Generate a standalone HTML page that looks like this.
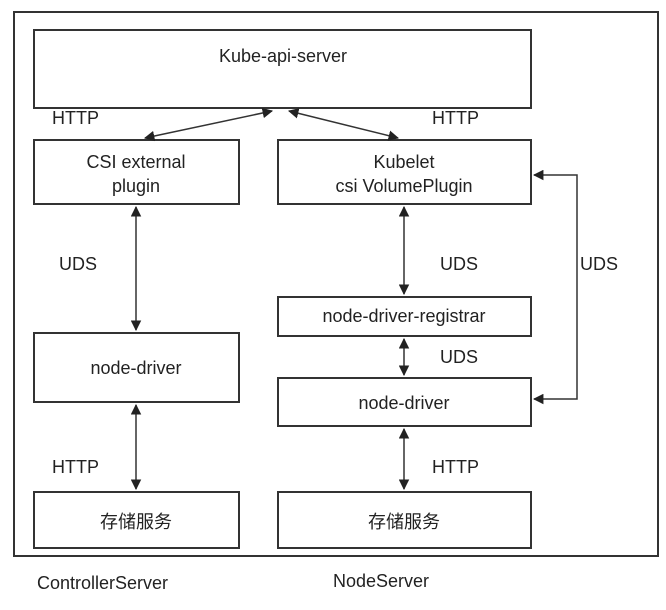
<!DOCTYPE html>
<html><head><meta charset="utf-8"><style>
body{margin:0;background:#fff;}
svg{display:block;}
text{font-family:"Liberation Sans","Noto Sans CJK SC",sans-serif;fill:#222;font-size:18px;}
</style></head><body>
<svg width="666" height="610" viewBox="0 0 666 610">
<defs>
<marker id="a" viewBox="0 0 10 10" refX="9" refY="5" markerWidth="7" markerHeight="7" orient="auto-start-reverse"><path d="M0,0L10,5L0,10z" fill="#222"/></marker>
</defs>
<g fill="none" stroke="#333" stroke-width="2">
<rect x="14" y="12" width="644" height="544"/>
<rect x="34" y="30" width="497" height="78"/>
<rect x="34" y="140" width="205" height="64"/>
<rect x="278" y="140" width="253" height="64"/>
<rect x="34" y="333" width="205" height="69"/>
<rect x="278" y="297" width="253" height="39"/>
<rect x="278" y="378" width="253" height="48"/>
<rect x="34" y="492" width="205" height="56"/>
<rect x="278" y="492" width="253" height="56"/>
</g>
<g stroke="#333" stroke-width="1.5" fill="none" marker-start="url(#a)" marker-end="url(#a)">
<line x1="272" y1="111" x2="145" y2="138"/>
<line x1="289" y1="111" x2="398" y2="138"/>
<line x1="136" y1="207" x2="136" y2="330"/>
<line x1="136" y1="405" x2="136" y2="489"/>
<line x1="404" y1="207" x2="404" y2="294"/>
<line x1="404" y1="339" x2="404" y2="375"/>
<line x1="404" y1="429" x2="404" y2="489"/>
<polyline points="534,175 577,175 577,399 534,399"/>
</g>
<text x="52" y="124">HTTP</text>
<text x="432" y="124">HTTP</text>
<text x="283" y="62" text-anchor="middle">Kube-api-server</text>
<text x="136" y="168" text-anchor="middle" font-size="17">CSI external</text>
<text x="136" y="192" text-anchor="middle" font-size="17">plugin</text>
<text x="404" y="168" text-anchor="middle" font-size="17">Kubelet</text>
<text x="404" y="192" text-anchor="middle" font-size="17">csi VolumePlugin</text>
<text x="59" y="270">UDS</text>
<text x="440" y="270">UDS</text>
<text x="580" y="270">UDS</text>
<text x="404" y="322" text-anchor="middle" font-size="16">node-driver-registrar</text>
<text x="440" y="363">UDS</text>
<text x="136" y="374" text-anchor="middle">node-driver</text>
<text x="404" y="409" text-anchor="middle">node-driver</text>
<text x="52" y="473">HTTP</text>
<text x="432" y="473">HTTP</text>
<text x="136" y="528" text-anchor="middle" font-size="20">存储服务</text>
<text x="404" y="528" text-anchor="middle" font-size="20">存储服务</text>
<text x="37" y="589">ControllerServer</text>
<text x="333" y="587">NodeServer</text>
</svg>
</body></html>
